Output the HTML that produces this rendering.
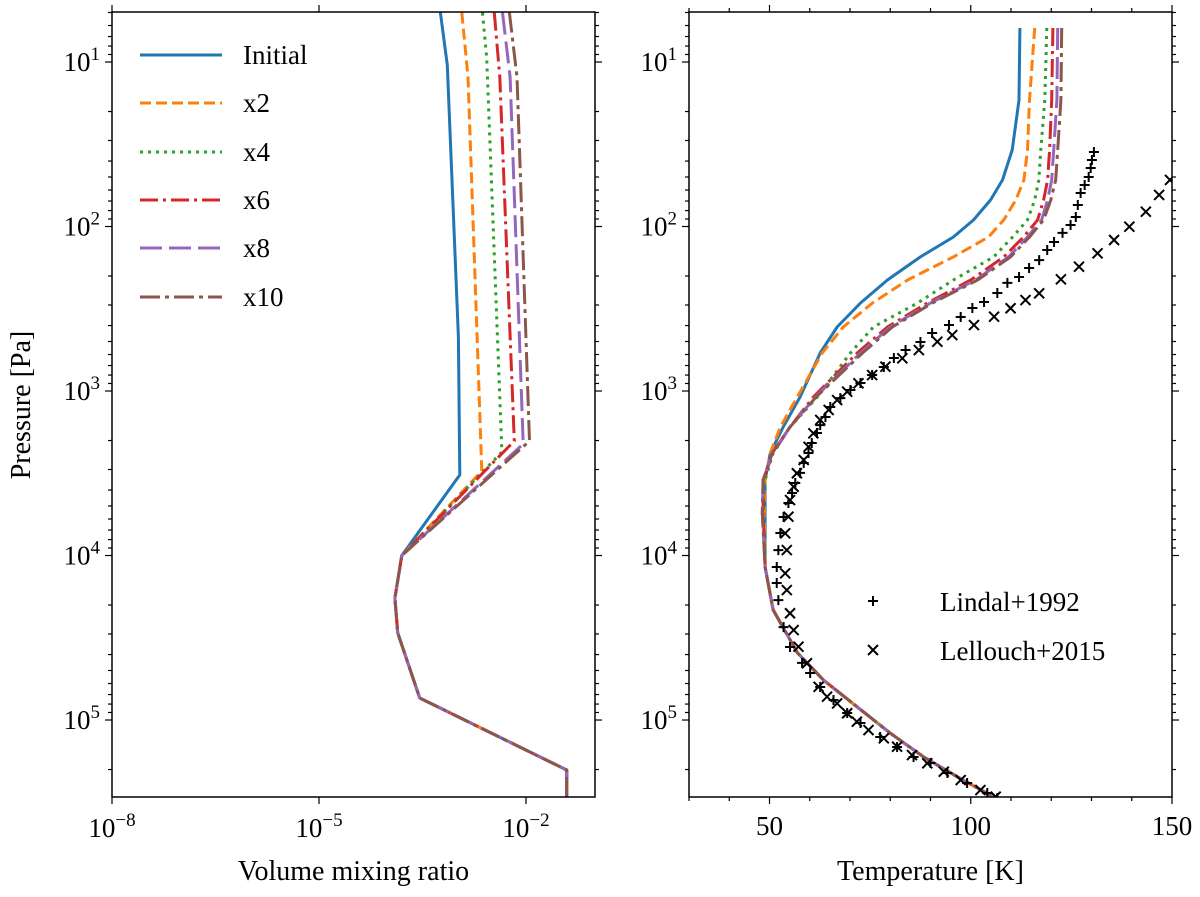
<!DOCTYPE html>
<html><head><meta charset="utf-8"><style>
html,body{margin:0;padding:0;background:#fff;}
svg{display:block;font-family:"Liberation Serif",serif;}
</style></head><body>
<svg id="fig" width="1200" height="897" viewBox="0 0 1200 897">
<defs>
<clipPath id="clipL"><rect x="112" y="12" width="483" height="785"/></clipPath>
<clipPath id="clipR"><rect x="689" y="12" width="483" height="785"/></clipPath>
</defs>
<g id="left"></g>
<g id="right"></g>
</svg>
<script>
// ---- shared pressure axis (log10 Pa) ----
const pLogMin = 0.696, pLogMax = 5.468;
const yTickExps = [1,2,3,4,5];
// ---- left panel data: log10 VMR vs log10 p ----
const vmrLabels = ["Initial","x2","x4","x6","x8","x10"];
const lowerLogP = [4.0, 4.258, 4.47, 4.866, 5.304, 5.47];
const lowerLogV = [-3.80, -3.90, -3.86, -3.54, -1.41, -1.41];
const initLogP = [0.70, 1.018, 2.672, 3.51];
const initLogV = [-3.24, -3.14, -2.98, -2.96];
const x2LogP = [0.70, 1.091, 3.486];
const x2LogV = [-2.93, -2.84, -2.64];
const x4LogP = [0.70, 0.975, 3.371];
const x4LogV = [-2.63, -2.57, -2.35];
const x6LogP = [0.70, 1.091, 3.304];
const x6LogV = [-2.46, -2.38, -2.17];
const x8LogP = [0.70, 1.091, 3.322];
const x8LogV = [-2.34, -2.23, -2.04];
const x10LogP = [0.70, 1.091, 3.304];
const x10LogV = [-2.24, -2.13, -1.95];
const vmrTickExps = [-8,-5,-2];
// ---- right panel data: temperature (K) vs log10 p ----
const upperLogP = [0.793,1.231,1.535,1.717,1.839,1.96,2.064,2.185,2.325,2.465,2.611,2.769,3.036,3.219,3.377,3.541,3.742];
const tInit = [112.2,112.0,110.3,107.9,104.9,100.7,95.7,87.5,79.3,72.6,66.8,62.6,57.6,53.4,50.2,48.9,48.9];
const tX2   = [115.9,114.6,114.1,113.2,111.2,108.2,104.4,95.7,84.3,75.6,68.3,63.1,56.9,52.7,50.2,48.9,48.7];
const tX4   = [118.9,118.4,117.4,116.9,115.9,114.1,110.4,105.7,95.7,86.8,75.8,70.1,61.9,55.1,50.9,48.9,48.4];
const tX6   = [120.4,120.1,119.6,119.1,118.1,116.6,113.1,108.2,100.0,89.2,79.3,71.8,60.9,55.1,50.9,48.4,48.4];
const tX8   = [121.6,121.4,120.6,120.1,119.1,117.6,114.1,109.4,101.2,90.0,80.0,72.6,61.4,55.1,50.7,48.4,48.2];
const tX10  = [122.6,122.4,121.6,121.1,119.9,118.1,114.6,109.9,101.7,90.5,80.5,73.1,61.6,55.1,50.7,48.4,48.2];
const lowerTLogP = [4.07,4.33,4.59,4.757,4.92,5.08,5.225,5.346,5.468];
const lowerT     = [48.9,50.9,56.9,63.4,71.8,80.0,88.3,96.7,105.7];
const lindalT = [130.6,130.1,129.8,129.3,128.3,127.3,126.6,126.1,124.8,122.8,120.7,119.0,117.0,114.5,112.0,109.1,106.6,103.3,100.4,97.5,94.6,90.4,87.5,83.8,80.9,78.4,75.5,72.6,70.1,67.6,65.1,63.9,62.6,61.8,60.5,59.7,58.5,57.6,56.4,55.6,54.7,53.5,52.7,52.2,51.8,51.8,52.2,53.5,55.1,58.1,60.1,62.6,65.9,69.3,72.6,77.5,81.7,85.8,90.0,94.2,99.1,104.1,106.6];
const lindalLogP = [1.547,1.596,1.644,1.699,1.748,1.796,1.869,1.942,1.991,2.039,2.094,2.143,2.204,2.252,2.307,2.343,2.404,2.459,2.495,2.550,2.599,2.647,2.702,2.751,2.799,2.854,2.903,2.951,2.994,3.043,3.097,3.158,3.207,3.255,3.316,3.377,3.438,3.498,3.559,3.620,3.681,3.766,3.863,3.967,4.070,4.167,4.271,4.435,4.556,4.653,4.714,4.799,4.878,4.957,5.018,5.103,5.164,5.225,5.261,5.322,5.383,5.444,5.474];
const lellT = [149.5,146.8,143.5,139.4,135.6,131.5,126.9,122.4,117.0,113.6,109.9,105.8,100.8,95.4,91.7,87.1,83.0,78.8,75.5,72.1,69.3,66.8,64.7,62.6,60.9,59.7,58.5,56.8,56.0,55.1,54.7,53.9,54.3,53.9,54.3,55.1,56.0,57.2,59.3,62.2,64.3,66.8,69.3,71.7,74.6,78.4,81.7,85.4,89.2,93.3,97.5,102.4,106.2];
const lellLogP = [1.717,1.808,1.910,2.001,2.082,2.163,2.244,2.321,2.406,2.447,2.497,2.548,2.599,2.660,2.700,2.751,2.801,2.852,2.903,2.953,3.004,3.055,3.115,3.176,3.257,3.339,3.419,3.500,3.582,3.663,3.764,3.865,3.967,4.108,4.210,4.351,4.453,4.554,4.655,4.798,4.858,4.899,4.959,5.010,5.061,5.111,5.162,5.213,5.263,5.314,5.365,5.426,5.466];
const tTicks = [50,100,150];

const NS = "http://www.w3.org/2000/svg";
const TOP = 12, BOT = 797;
function yP(lp){ return TOP + (lp - pLogMin) / (pLogMax - pLogMin) * (BOT - TOP); }
const LX0 = 112, LX1 = 595, RX0 = 689, RX1 = 1172;
function xV(lv){ return LX0 + (lv + 8) / 7 * (LX1 - LX0); }
function xT(t){ return RX0 + (t - 30) / 120 * (RX1 - RX0); }
function mk(tag, attrs, parent){ const e = document.createElementNS(NS, tag); for (const k in attrs) e.setAttribute(k, attrs[k]); parent.appendChild(e); return e; }

const colors = ["#1f77b4","#ff7f0e","#2ca02c","#d62728","#9467bd","#8c564b"];
const dashes = ["none","11,5","3,5","18,5,3,5","22,7","20,5,4,5"];

const L = document.getElementById("left");
const R = document.getElementById("right");

// ---- left panel series ----
const upperSets = [[initLogP,initLogV],[x2LogP,x2LogV],[x4LogP,x4LogV],[x6LogP,x6LogV],[x8LogP,x8LogV],[x10LogP,x10LogV]];
const gL = mk("g", {"clip-path":"url(#clipL)"}, L);
upperSets.forEach((s, i) => {
  const pts = [];
  for (let k = 0; k < s[0].length; k++) pts.push(xV(s[1][k]).toFixed(1) + "," + yP(s[0][k]).toFixed(1));
  for (let k = 0; k < lowerLogP.length; k++) pts.push(xV(lowerLogV[k]).toFixed(1) + "," + yP(lowerLogP[k]).toFixed(1));
  const pl = mk("polyline", {points: pts.join(" "), fill: "none", stroke: colors[i], "stroke-width": 3, "stroke-dasharray": dashes[i], "stroke-linejoin": "round"}, gL);
  
  
});

// ---- right panel series ----
const tSets = [tInit, tX2, tX4, tX6, tX8, tX10];
const gR = mk("g", {"clip-path":"url(#clipR)"}, R);
tSets.forEach((arr, i) => {
  const pts = [];
  for (let k = 0; k < arr.length; k++) pts.push(xT(arr[k]).toFixed(1) + "," + yP(upperLogP[k]).toFixed(1));
  for (let k = 0; k < lowerT.length; k++) pts.push(xT(lowerT[k]).toFixed(1) + "," + yP(lowerTLogP[k]).toFixed(1));
  const pl = mk("polyline", {points: pts.join(" "), fill: "none", stroke: colors[i], "stroke-width": 3, "stroke-dasharray": dashes[i], "stroke-linejoin": "round"}, gR);
  
  
});
function plus(x, y, g){ mk("path", {d:`M${x-5},${y}h10M${x},${y-5}v10`, stroke:"#000", "stroke-width":2, fill:"none"}, g); }
function cross(x, y, g){ mk("path", {d:`M${x-5},${y-5}l10,10M${x-5},${y+5}l10,-10`, stroke:"#000", "stroke-width":2, fill:"none"}, g); }
for (let k = 0; k < lindalT.length; k++) {
  const g = mk("g", {}, gR);
  
  
  plus(xT(lindalT[k]), yP(lindalLogP[k]), g);
}
for (let k = 0; k < lellT.length; k++) {
  const g = mk("g", {}, gR);
  
  
  cross(xT(lellT[k]), yP(lellLogP[k]), g);
}

// ---- axes frames & ticks ----
function frame(g, x0, x1, name){
  const r = mk("rect", {x:x0, y:TOP, width:x1-x0, height:BOT-TOP, fill:"none", stroke:"#000", "stroke-width":1.5}, g);
  
  
  for (let d = 0; d <= 5; d++) {
    for (let m = 1; m <= 9; m++) {
      const lp = d + Math.log10(m);
      if (lp < pLogMin || lp > pLogMax) continue;
      const y = yP(lp), len = m === 1 ? 7 : 4;
      mk("line", {x1:x0-len, x2:x0, y1:y, y2:y, stroke:"#000", "stroke-width":1.2}, g);
      mk("line", {x1:x1, x2:x1+len, y1:y, y2:y, stroke:"#000", "stroke-width":1.2}, g);
    }
  }
  yTickExps.forEach(e => {
    const t = mk("text", {x:x0-12, y:yP(e)+9, "text-anchor":"end", "font-size":27}, g);
    
    
    t.innerHTML = `10<tspan dy="-11" font-size="19">${e}</tspan>`;
  });
}
frame(L, LX0, LX1, "vmr-axes-frame");
frame(R, RX0, RX1, "temperature-axes-frame");

vmrTickExps.forEach(e => {
  const x = xV(e);
  mk("line", {x1:x, x2:x, y1:BOT, y2:BOT+7, stroke:"#000", "stroke-width":1.2}, L);
  mk("line", {x1:x, x2:x, y1:TOP-7, y2:TOP, stroke:"#000", "stroke-width":1.2}, L);
  const t = mk("text", {x:x, y:BOT+40, "text-anchor":"middle", "font-size":27}, L);
  
  
  t.innerHTML = `10<tspan dy="-11" font-size="19">\u2212${-e}</tspan>`;
});
for (let t = 30; t <= 150; t += 10) {
  const x = xT(t), len = (t % 50 === 0) ? 7 : 4;
  mk("line", {x1:x, x2:x, y1:BOT, y2:BOT+len, stroke:"#000", "stroke-width":1.2}, R);
  mk("line", {x1:x, x2:x, y1:TOP-len, y2:TOP, stroke:"#000", "stroke-width":1.2}, R);
}
tTicks.forEach(v => {
  const t = mk("text", {x:xT(v), y:BOT+38, "text-anchor":"middle", "font-size":27}, R);
  
  
  t.textContent = v;
});

// axis titles
let tt = mk("text", {x:(LX0+LX1)/2, y:880, "text-anchor":"middle", "font-size":28}, L);


tt.textContent = "Volume mixing ratio";
tt = mk("text", {x:(RX0+RX1)/2, y:880, "text-anchor":"middle", "font-size":28}, R);


tt.textContent = "Temperature [K]";
tt = mk("text", {x:0, y:0, "text-anchor":"middle", "font-size":28, transform:"translate(30,405) rotate(-90)"}, L);


tt.textContent = "Pressure [Pa]";

// legends
const legY = [55,103,152,200,248,297];
vmrLabels.forEach((lab, i) => {
  const g = mk("g", {}, L);
  
  
  mk("line", {x1:140, x2:222, y1:legY[i], y2:legY[i], stroke:colors[i], "stroke-width":3, "stroke-dasharray":dashes[i]}, g);
  const t = mk("text", {x:243, y:legY[i]+9, "font-size":27}, g);
  t.textContent = lab;
});
const g1 = mk("g", {}, R);


plus(873, 601, g1);
mk("text", {x:940, y:611, "font-size":27}, g1).textContent = "Lindal+1992";
const g2 = mk("g", {}, R);


cross(873, 650, g2);
mk("text", {x:940, y:660, "font-size":27}, g2).textContent = "Lellouch+2015";
</script>
</body></html>
